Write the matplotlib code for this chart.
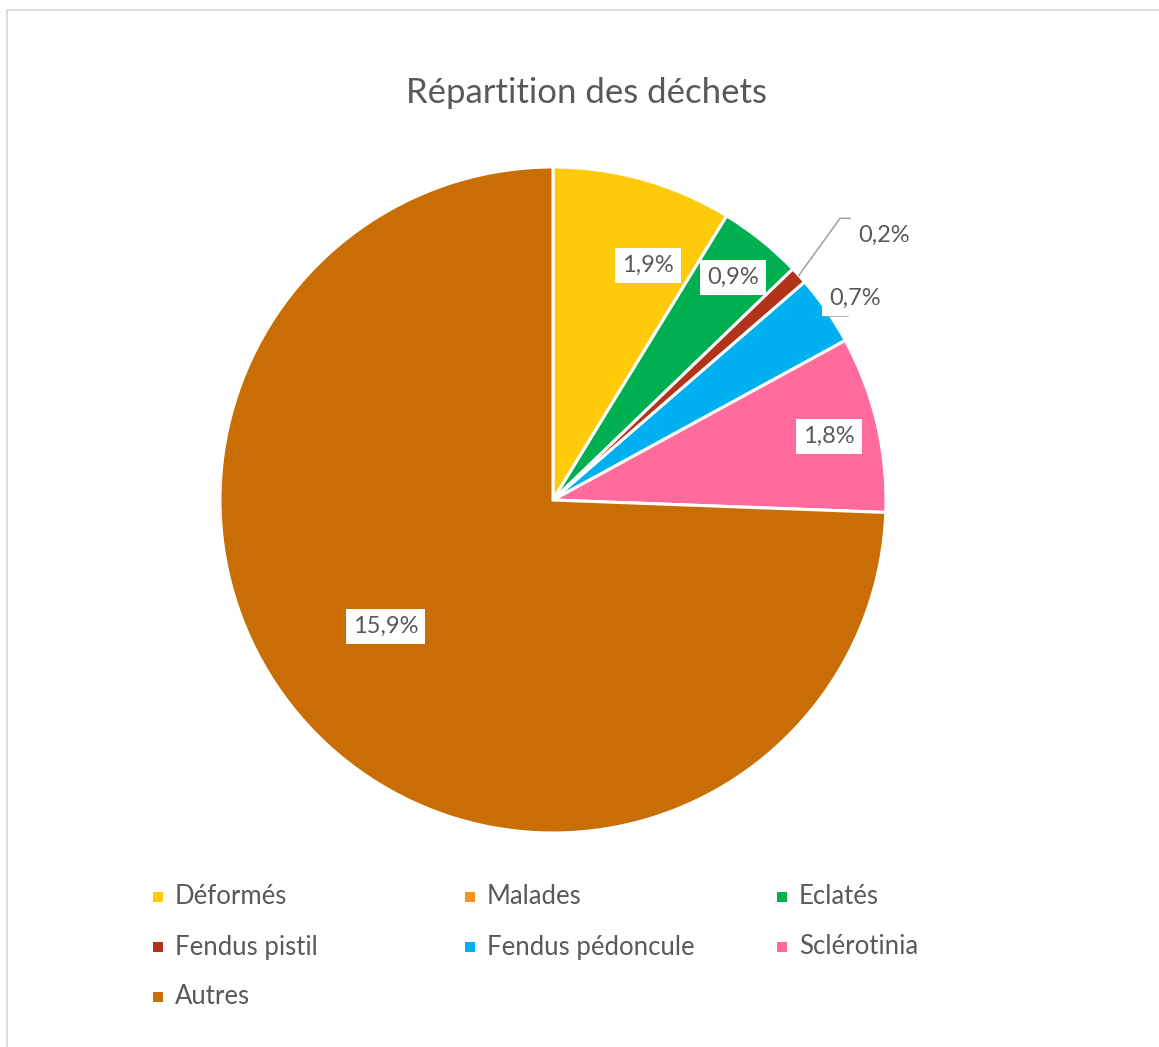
import matplotlib
matplotlib.use("Agg")
import matplotlib.pyplot as plt
from matplotlib.patches import Rectangle
import numpy as np

categories = ["Déformés", "Malades", "Eclatés", "Fendus pistil",
              "Fendus pédoncule", "Sclérotinia", "Autres"]
values = [1.87, 0.0, 0.87, 0.18, 0.73, 1.83, 15.93]
colors = ["#FFCA08", "#F7941D", "#00B050", "#B1341A", "#00B0F0", "#FF6B9C", "#C96E04"]

plt.rcParams['font.family'] = ['Lato', 'DejaVu Sans']
TXT = "#595959"

W, H = 1159, 1047
fig = plt.figure(figsize=(W / 100, H / 100), dpi=100)

# pie axes: centre (553,500), radius 333 px
cx, cy, r = 553, 500, 333
ax = fig.add_axes([(cx - r) / W, (H - cy - r) / H, 2 * r / W, 2 * r / H])
wedges, _ = ax.pie(values, colors=colors, startangle=90, counterclock=False,
                   radius=1.0, wedgeprops=dict(edgecolor="white", linewidth=2.2))
ax.set_xlim(-1, 1)
ax.set_ylim(-1, 1)
ax.set_aspect("equal")
ax.axis("off")

def fmt(v):
    return f"{v:.1f}%".replace(".", ",")

# label placement (angle deg, radius, boxed) per slice; None = no label
label_pos = [(68, 0.76, True), None, (51, 0.86, True), (41, 1.213, False),
             (33.8, 1.09, True), (13, 0.85, True), (217, 0.63, True)]

# short leader stub under the "Fendus pédoncule" label
ax.plot([0.82, 0.885], [0.553, 0.553], color="#A6A6A6", lw=1.2, clip_on=False, zorder=3)

for v, pos in zip(values, label_pos):
    if pos is None:
        continue
    a, rr, boxed = pos
    x, y = rr * np.cos(np.radians(a)), rr * np.sin(np.radians(a))
    if not boxed:
        ax.text(x, y, fmt(v), ha="left", va="center", fontsize=17, color=TXT,
                clip_on=False)
    else:
        ax.text(x, y, fmt(v), ha="center", va="center", fontsize=17, color=TXT,
                bbox=dict(boxstyle="square,pad=0.3", fc="white", ec="none"),
                clip_on=False, zorder=5)

# leader line for the small "Fendus pistil" slice
cum = np.cumsum(values)
mid = 90 - 360 * (cum[3] - values[3] / 2) / cum[-1]
th = np.radians(mid)
ax.plot([np.cos(th), 0.862, 0.892], [np.sin(th), 0.846, 0.846], color="#A6A6A6", lw=1.2,
        clip_on=False, zorder=4)

# title
fig.text(586 / W, 1 - 93 / H, "Répartition des déchets", ha="center", va="center",
         fontsize=25, color=TXT)

# legend (row-major, 3 columns)
col_x = [158, 470, 782]
row_y = [897, 947, 997]
for i, (name, c) in enumerate(zip(categories, colors)):
    rx, ry = col_x[i % 3], row_y[i // 3]
    fig.patches.append(Rectangle(((rx - 5) / W, 1 - (ry + 5) / H), 10 / W, 10 / H,
                                 transform=fig.transFigure, fc=c, ec="none"))
    fig.text((rx + 17) / W, 1 - ry / H, name, ha="left", va="center",
             fontsize=18.5, color=TXT)

# chart-area border
fig.add_artist(plt.Line2D([7 / W, 7 / W], [0, 1 - 9.5 / H], transform=fig.transFigure,
                          color="#D9D9D9", lw=1.3))
fig.add_artist(plt.Line2D([7 / W, 1], [1 - 9.5 / H, 1 - 9.5 / H], transform=fig.transFigure,
                          color="#D9D9D9", lw=1.3))

fig.savefig("out.png", dpi=100, facecolor="white")
